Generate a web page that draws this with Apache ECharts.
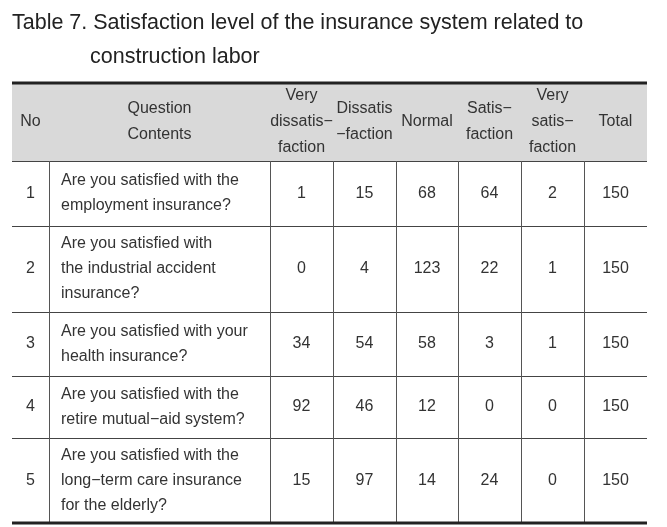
<!DOCTYPE html>
<html>
<head>
<meta charset="utf-8">
<script src="https://cdn.jsdelivr.net/npm/echarts@6/dist/echarts.min.js"></script>
<style>
html,body{margin:0;padding:0;background:#fff;}
#main{width:667px;height:527px;}
</style>
</head>
<body>
<div id="main"></div>
<script>
// ---- data ----
const titleLine1 = 'Table 7. Satisfaction level of the insurance system related to';
const titleLine2 = 'construction labor';
const headers = ['No', 'Question\nContents', 'Very\ndissatis\u2212\nfaction', 'Dissatis\n\u2212faction', 'Normal', 'Satis\u2212\nfaction', 'Very\nsatis\u2212\nfaction', 'Total'];
const rowNumbers = ['1', '2', '3', '4', '5'];
const questions = [
  'Are you satisfied with the\nemployment insurance?',
  'Are you satisfied with\nthe industrial accident\ninsurance?',
  'Are you satisfied with your\nhealth insurance?',
  'Are you satisfied with the\nretire mutual\u2212aid system?',
  'Are you satisfied with the\nlong\u2212term care insurance\nfor the elderly?'
];
const veryDissatisfaction = [1, 0, 34, 92, 15];
const dissatisfaction = [15, 4, 54, 46, 97];
const normal = [68, 123, 58, 12, 14];
const satisfaction = [64, 22, 3, 0, 24];
const verySatisfaction = [2, 1, 1, 0, 0];
const total = [150, 150, 150, 150, 150];

// ---- layout (table geometry in axis units) ----
const colEdges = [0, 37, 258, 321, 384, 446, 509, 572, 635];
const rowEdges = [0, 78, 143, 229, 293, 355, 440];

// build cells
const columns = [rowNumbers, questions, veryDissatisfaction, dissatisfaction, normal, satisfaction, verySatisfaction, total];
const cellTexts = [];
const cellData = [];
headers.forEach(function (h, c) { cellData.push([c, 0]); cellTexts.push(h); });
for (let r = 0; r < questions.length; r++) {
  for (let c = 0; c < columns.length; c++) {
    cellData.push([c, r + 1]);
    cellTexts.push(String(columns[c][r]));
  }
}
const nCols = headers.length;
const nRows = questions.length + 1;
const FONT = '"Liberation Sans", Arial, sans-serif';

const chart = echarts.init(document.getElementById('main'), null, {renderer: 'canvas'});
chart.setOption({
  backgroundColor: '#ffffff',
  animation: false,
  title: [
    {text: titleLine1, left: 12, top: 12, padding: 0, textStyle: {fontFamily: FONT, fontSize: 21.5, fontWeight: 'normal', color: '#222'}},
    {text: titleLine2, left: 90, top: 46, padding: 0, textStyle: {fontFamily: FONT, fontSize: 21.5, fontWeight: 'normal', color: '#222'}}
  ],
  grid: {left: 12, right: 20, top: 83, bottom: 4},
  xAxis: {type: 'value', min: 0, max: 635, show: false},
  yAxis: {type: 'value', min: 0, max: 440, inverse: true, show: false},
  series: [{
    type: 'custom',
    clip: false,
    data: cellData,
    encode: {x: 0, y: 1},
    renderItem: function (params, api) {
      const c = api.value(0), r = api.value(1);
      const p0 = api.coord([colEdges[c], rowEdges[r]]);
      const p1 = api.coord([colEdges[c + 1], rowEdges[r + 1]]);
      const x0 = p0[0], y0 = p0[1], x1 = p1[0], y1 = p1[1];
      const text = cellTexts[params.dataIndex];
      const children = [];
      if (r === 0) {
        children.push({type: 'rect', shape: {x: x0, y: y0, width: x1 - x0, height: y1 - y0}, style: {fill: '#d9d9d9'}});
      }
      if (c < nCols - 1) {
        children.push({type: 'line', shape: {x1: Math.round(x1) + 0.5, y1: y0, x2: Math.round(x1) + 0.5, y2: y1}, style: {stroke: '#555', lineWidth: 1}});
      }
      if (r < nRows - 1) {
        children.push({type: 'line', shape: {x1: x0, y1: Math.round(y1) + 0.5, x2: x1, y2: Math.round(y1) + 0.5}, style: {stroke: '#444', lineWidth: 1}});
      } else {
        children.push({type: 'line', shape: {x1: x0, y1: y1, x2: x1, y2: y1}, style: {stroke: '#222', lineWidth: 3}});
      }
      if (r === 0) {
        children.push({type: 'line', shape: {x1: x0, y1: y0, x2: x1, y2: y0}, style: {stroke: '#222', lineWidth: 3}});
      }
      const isQuestion = (c === 1 && r > 0);
      children.push({
        type: 'text',
        x: isQuestion ? x0 + 12 : (x0 + x1) / 2,
        y: (y0 + y1) / 2,
        style: {
          text: text,
          fontFamily: FONT,
          fontSize: 16,
          lineHeight: isQuestion ? 25 : 26,
          fill: '#333',
          align: isQuestion ? 'left' : 'center',
          verticalAlign: 'middle'
        }
      });
      return {type: 'group', children: children};
    }
  }]
});
</script>
</body>
</html>
